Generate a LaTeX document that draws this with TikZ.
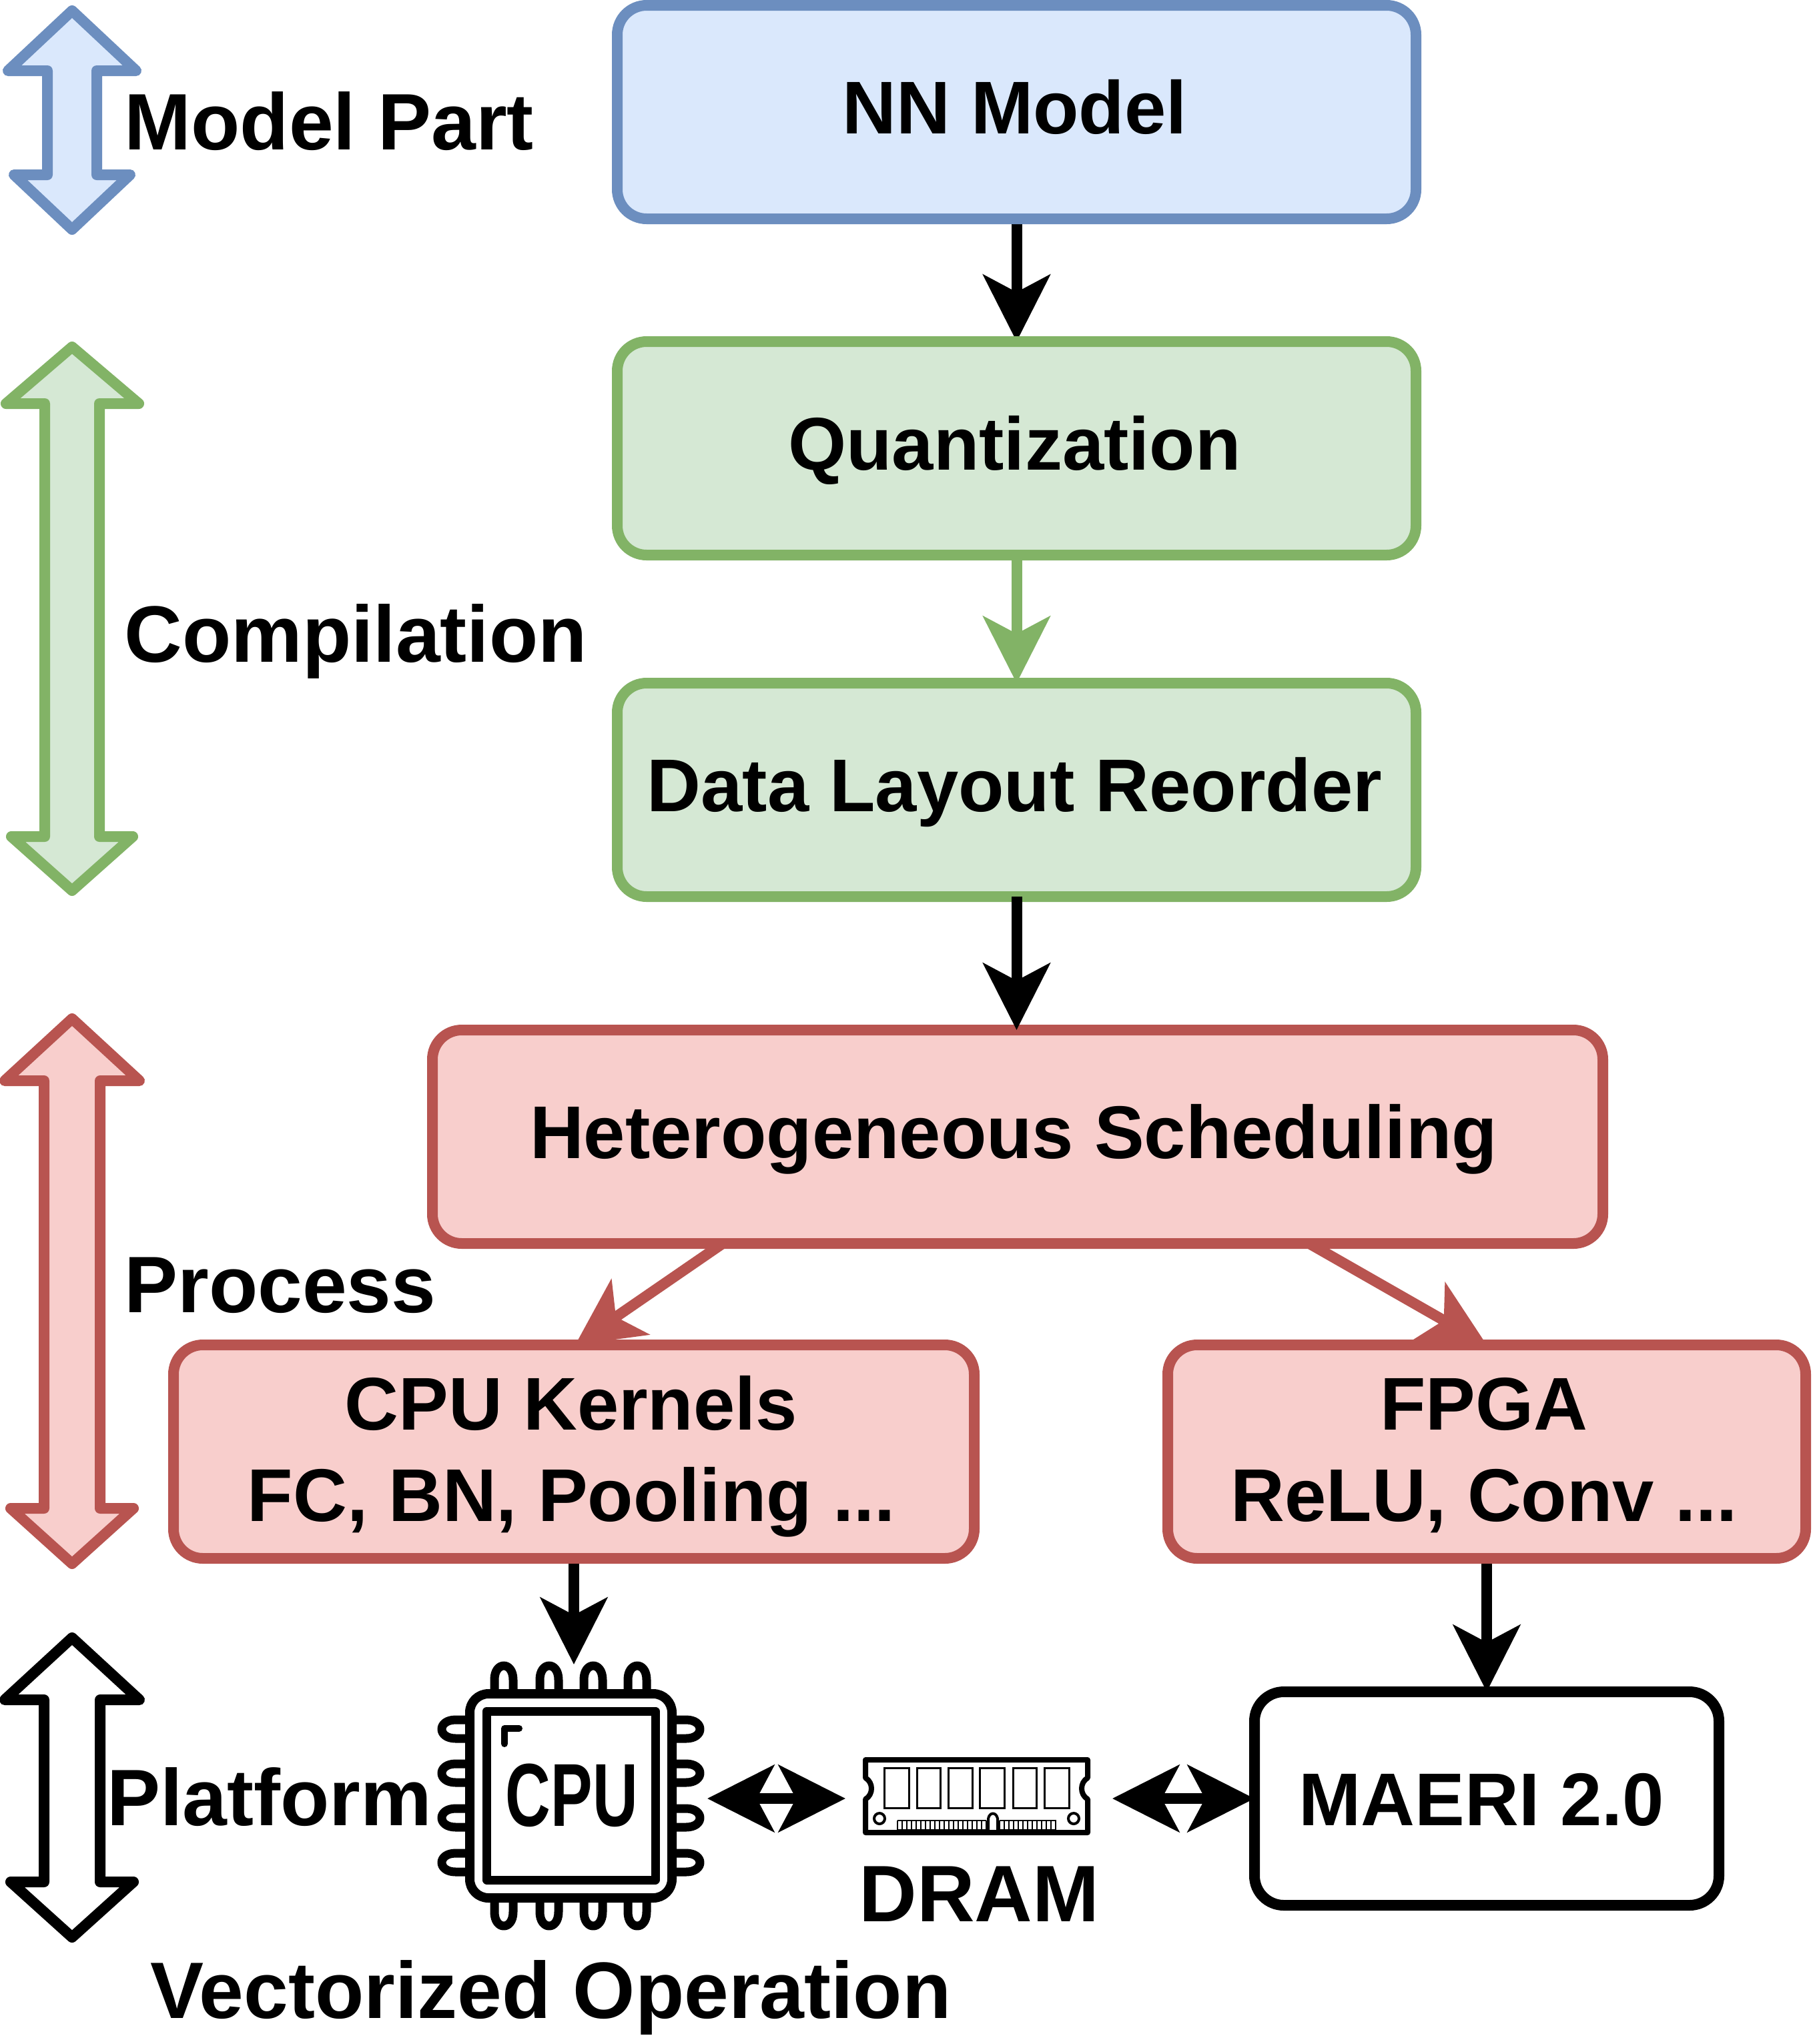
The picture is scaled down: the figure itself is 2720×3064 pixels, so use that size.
\documentclass[tikz,border=0pt]{standalone}
\usepackage{fontspec}
\setmainfont{Liberation Sans}
\usetikzlibrary{arrows.meta,calc}
\definecolor{bluefill}{HTML}{DAE8FC}\definecolor{bluedraw}{HTML}{6C8EBF}
\definecolor{greenfill}{HTML}{D5E8D4}\definecolor{greendraw}{HTML}{82B366}
\definecolor{redfill}{HTML}{F8CECC}\definecolor{reddraw}{HTML}{B85450}
\pgfdeclarelayer{back}\pgfsetlayers{back,main}
\tikzset{
  x=0.5pt,y=-0.5pt,
  boxstyle/.style={draw,line width=8pt,rounded corners=22pt,inner sep=0pt,align=center,
    font=\fontsize{56}{68.5}\selectfont\bfseries,text height=42pt,text depth=10pt,text=black},
  twolines/.style={text height=114pt,text depth=10pt},
  bluebox/.style={boxstyle,fill=bluefill,draw=bluedraw},
  greenbox/.style={boxstyle,fill=greenfill,draw=greendraw},
  redbox/.style={boxstyle,fill=redfill,draw=reddraw},
  whitebox/.style={boxstyle,fill=white,draw=black},
  lab/.style={anchor=base west,inner sep=0pt,font=\fontsize{60}{68.5}\selectfont\bfseries},
  flow/.style={line width=8pt,-{Stealth[length=50pt,width=50pt,inset=13pt]},shorten >=-4pt},
  dbl/.style={line width=8pt,{Stealth[length=50pt,width=50pt,inset=13pt]}-{Stealth[length=50pt,width=50pt,inset=13pt]}},
  bigarrow/.style={line width=8pt,line join=round},
  icon/.style={line width=6.5pt,line join=round,draw=black},
}
\begin{document}
\begin{tikzpicture}
\useasboundingbox (0,0) rectangle (2720,3064);
% side arrows
\filldraw[bigarrow,fill=bluefill,draw=bluedraw] (108,16)--(204,106)--(145,106)--(145,262)--(195,262)--(108,344)--(21,262)--(71,262)--(71,106)--(12,106)--cycle;
\filldraw[bigarrow,fill=greenfill,draw=greendraw] (108,520)--(208,605)--(149,605)--(149,1254)--(199,1254)--(108,1335)--(17,1254)--(67,1254)--(67,605)--(9,605)--cycle;
\filldraw[bigarrow,fill=redfill,draw=reddraw] (108,1527)--(209,1620)--(150,1620)--(150,2261)--(200,2261)--(108,2344)--(16,2261)--(66,2261)--(66,1620)--(7,1620)--cycle;
\filldraw[bigarrow,fill=white,draw=black] (108,2455)--(209,2548)--(150,2548)--(150,2821)--(200,2821)--(108,2904)--(16,2821)--(66,2821)--(66,2548)--(7,2548)--cycle;
% labels
\node[lab] (lmodel) at (186,224) {Model Part};
\node[lab] (lcomp) at (186,992) {Compilation};
\node[lab] (lproc) at (186,1967) {Process};
\node[lab] (lplat) at (160,2736) {Platform};
\node[lab] (ldram) at (1287,2880) {DRAM};
\node[lab] (lvec) at (225,3025) {Vectorized Operation};
% boxes
\node[bluebox,minimum width=598.5pt,minimum height=160pt] (nn) at (1523.5,168) {NN Model\hspace*{3pt}};
\node[greenbox,minimum width=598.5pt,minimum height=160pt] (quant) at (1523.5,672) {Quantization\hspace*{3pt}};
\node[greenbox,minimum width=598.5pt,minimum height=160pt] (layout) at (1523.5,1184) {Data Layout Reorder\hspace*{3pt}};
\node[redbox,minimum width=877pt,minimum height=160pt] (het) at (1525,1704) {Heterogeneous Scheduling\hspace*{6pt}};
\node[redbox,twolines,minimum width=600pt,minimum height=160pt] (cpuk) at (860,2176) {CPU Kernels\hspace*{4pt}\\FC, BN, Pooling ...\hspace*{4pt}};
\node[redbox,twolines,minimum width=478pt,minimum height=160pt] (fpga) at (2228,2176) {FPGA\hspace*{4pt}\\ReLU, Conv ...\hspace*{4pt}};
\node[whitebox,minimum width=348pt,minimum height=160pt] (maeri) at (2228,2696) {};
\node[lab,font=\fontsize{56}{68.5}\selectfont\bfseries] (maeritxt) at (1946,2736) {MAERI 2.0};
% connectors
\coordinate (h1) at (1083,1864);
\coordinate (h2) at (1962,1864);
\coordinate (k1) at (862,2016);
\coordinate (k2) at (2228,2016);
\coordinate (cpuin) at (860,2495);
\coordinate (cr) at (1060,2696);
\coordinate (dl) at (1267,2696);
\coordinate (dr) at (1667,2696);
\begin{pgfonlayer}{back}
\draw[flow] (nn.south) -- (quant.north);
\end{pgfonlayer}
\draw[flow,draw=greendraw] (quant.south) -- (layout.north);
\draw[flow,shorten <=-4pt] (layout.south) -- (layout.south |- het.north);
\draw[flow,draw=reddraw,shorten >=0pt] (h1) -- (k1);
\draw[flow,draw=reddraw,shorten >=0pt] (h2) -- (k2);
\draw[flow,shorten >=0pt] (cpuk.south) -- (cpuin);
\draw[flow] (fpga.south) -- (maeri.north);
\draw[dbl] (cr) -- (dl);
\draw[dbl,shorten >=-4pt] (dr) -- (maeri.west);
% CPU icon
\draw[icon,rounded corners=14pt,line width=7pt] (704,2539) rectangle (1007,2845);
\draw[icon] (729.5,2565) rectangle (982,2818);
\foreach \p in {755,823,889,955}{
  \draw[icon] (\p-14,2534) -- (\p-14,2518) .. controls (\p-14,2490) and (\p+14,2490) .. (\p+14,2518) -- (\p+14,2534);
  \draw[icon] (\p-14,2850) -- (\p-14,2866) .. controls (\p-14,2894) and (\p+14,2894) .. (\p+14,2866) -- (\p+14,2850);
}
\foreach \p in {2592,2658,2725,2792}{
  \draw[icon] (699,\p-14) -- (683,\p-14) .. controls (655,\p-14) and (655,\p+14) .. (683,\p+14) -- (699,\p+14);
  \draw[icon] (1012,\p-14) -- (1028,\p-14) .. controls (1056,\p-14) and (1056,\p+14) .. (1028,\p+14) -- (1012,\p+14);
}
\draw[line width=5pt,line cap=round,line join=round] (756,2614)--(756,2591)--(778,2591);
\node[inner sep=0pt,anchor=center,xscale=0.7,font=\fontsize{67}{67}\selectfont\bfseries] (cputxt) at (857,2691) {CPU};
% DRAM icon
\draw[line width=4pt,line join=round] (1297,2638) -- (1630,2638) -- (1630,2665) .. controls (1618,2672) and (1618,2690) .. (1630,2697) -- (1630,2747) -- (1297,2747) -- (1297,2697) .. controls (1309,2690) and (1309,2672) .. (1297,2665) -- cycle;
\foreach \a/\b in {1325/1362,1374/1409,1421/1457,1468/1505,1518/1553,1565/1602}{
  \draw[line width=1.5pt] (\a,2650) rectangle (\b,2710);
}
\draw[line width=2pt] (1318,2726) circle[radius=8];
\draw[line width=2pt] (1609,2726) circle[radius=8];
\fill (1345,2742) rectangle (1478,2750);
\fill (1498,2742) rectangle (1583,2750);
\draw[line width=1pt] (1345,2729) -- (1478,2729);
\draw[line width=1pt] (1498,2729) -- (1583,2729);
\foreach \t in {1345,1352,...,1478}{\draw[line width=1.2pt] (\t,2729) -- (\t,2744);}
\foreach \t in {1498,1505,...,1583}{\draw[line width=1.2pt] (\t,2729) -- (\t,2744);}
\draw[line width=2pt] (1481,2744) -- (1481,2726) .. controls (1483,2716) and (1493,2716) .. (1495,2726) -- (1495,2744);
\end{tikzpicture}
\end{document}
